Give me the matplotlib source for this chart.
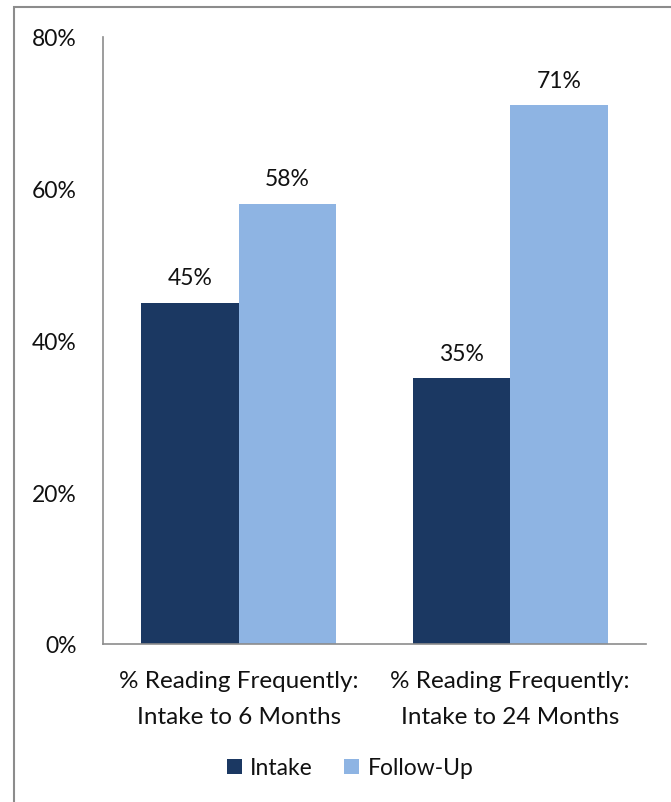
import numpy as np
import matplotlib.pyplot as plt
from matplotlib.patches import Rectangle

categories = ['% Reading Frequently:\nIntake to 6 Months',
              '% Reading Frequently:\nIntake to 24 Months']
intake = [45, 35]
follow_up = [58, 71]
series_names = ['Intake', 'Follow-Up']
colors = ['#1B3862', '#8EB4E3']
yticks = [0, 20, 40, 60, 80]

plt.rcParams['font.family'] = ['Lato', 'DejaVu Sans']
fs = 16.5

fig = plt.figure(figsize=(6.71, 8.03), dpi=100)
# outer chart-area border (only left/top edges fall inside the picture)
fig.patches.append(Rectangle((14 / 671, -0.5), 2.0, 1.5 - 8 / 803, transform=fig.transFigure,
                             fill=False, edgecolor='#8C8C8C', linewidth=1.5))

ax = fig.add_axes([103 / 671, 1 - 645 / 803, 543 / 671, 607 / 803])
x = np.arange(len(categories))
w = 0.36
b1 = ax.bar(x - w / 2, intake, w, color=colors[0], label=series_names[0])
b2 = ax.bar(x + w / 2, follow_up, w, color=colors[1], label=series_names[1])
for bars in (b1, b2):
    for r in bars:
        ax.annotate(f'{r.get_height():.0f}%', (r.get_x() + r.get_width() / 2, r.get_height()),
                    xytext=(0, 10.5), textcoords='offset points', ha='center', va='bottom',
                    fontsize=fs, color='#111111')

ax.set_xlim(-0.5, 1.5)
ax.set_ylim(0, 80)
ax.set_yticks(yticks)
ax.set_yticklabels([f'{v}%' for v in yticks])
ax.set_xticks(x)
ax.set_xticklabels(categories, linespacing=1.85)
ax.tick_params(axis='y', length=0, pad=19, labelsize=fs, labelcolor='#111111')
ax.tick_params(axis='x', length=0, pad=19, labelsize=17.5, labelcolor='#111111')
for s in ['top', 'right']:
    ax.spines[s].set_visible(False)
for s in ['left', 'bottom']:
    ax.spines[s].set_color('#8C8C8C')
    ax.spines[s].set_linewidth(1.2)

fig.legend(loc='center', bbox_to_anchor=(350 / 671, 1 - 769 / 803), ncol=2, frameon=False,
           fontsize=fs, handlelength=0.65, handleheight=0.65, handletextpad=0.35, columnspacing=1.4,
           labelcolor='#111111')

fig.savefig('out.png', dpi=100)
